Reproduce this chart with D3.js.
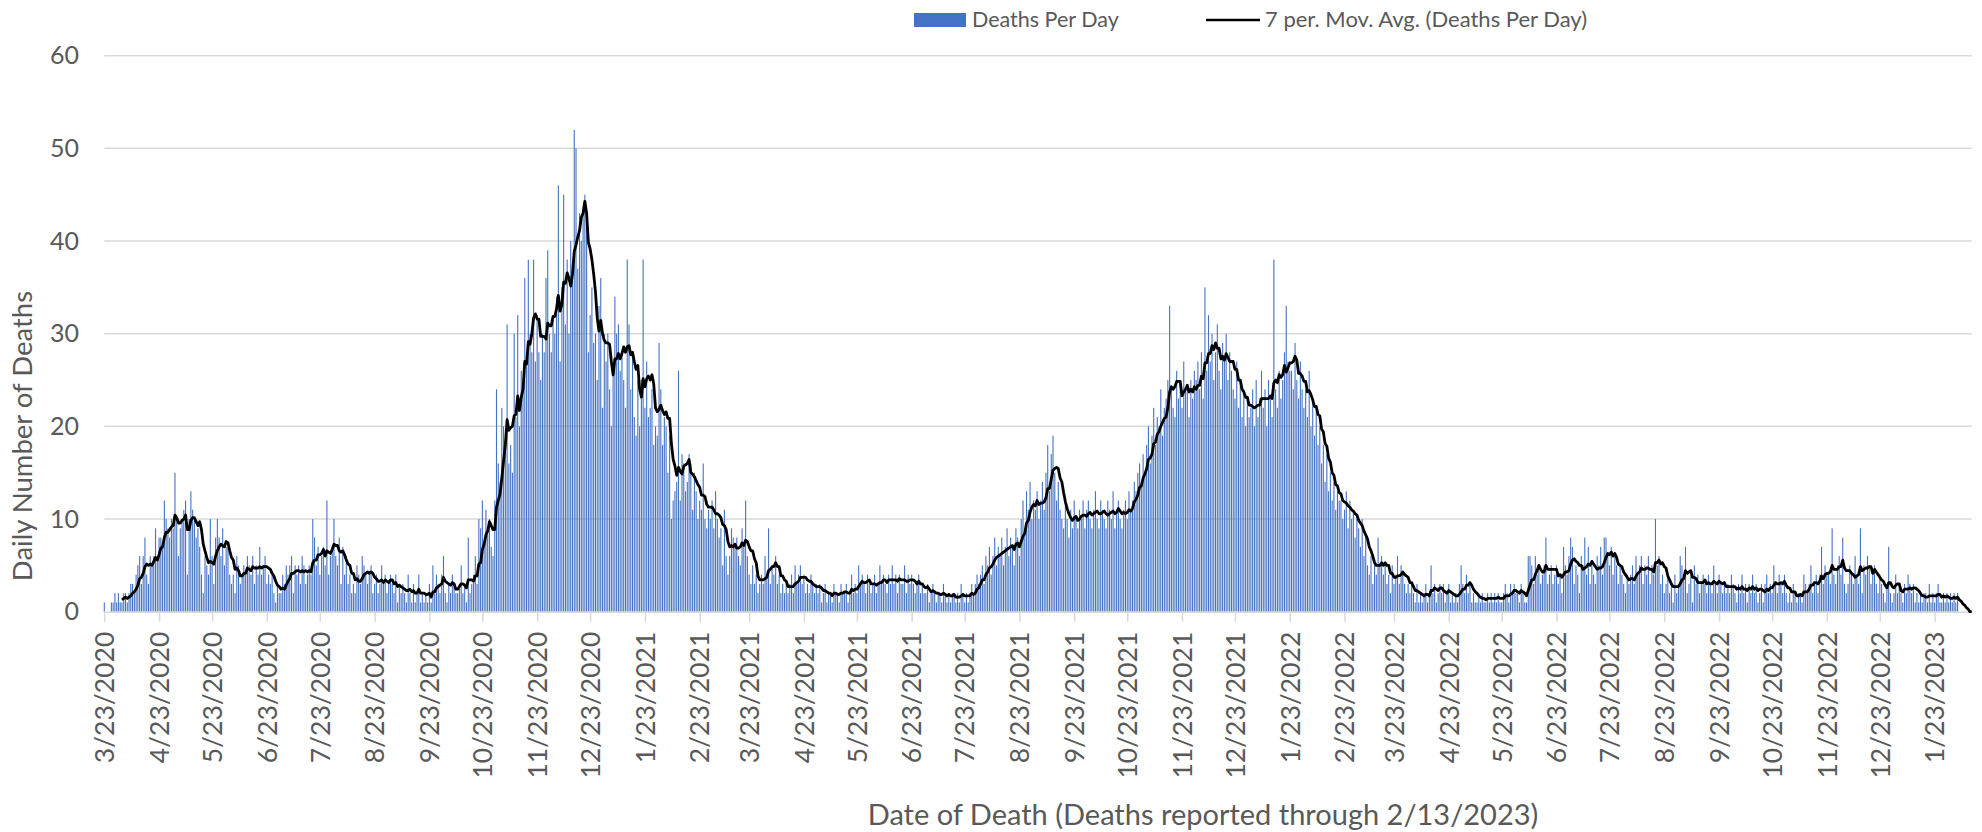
<!DOCTYPE html>
<html>
<head>
<meta charset="utf-8">
<script src="https://cdn.jsdelivr.net/npm/d3@7"></script>
<style>
  body { margin: 0; background: #fff; }
  text { font-family: Lato, "Open Sans", sans-serif; fill: #595959; }
</style>
</head>
<body>
<div id="chart"></div>
<script>
// deaths per day, one array per calendar month (first one starts 3/23/2020)
const mar2020 = [1, null, null, null, 1, 1, 2, 1, 2];
const apr2020 = [1,1,2,2,1,2,3, 3,2,4, 5,6,3,6,8,4,3, 6,5,6,9,6,8, 8,7,12,10,9,8,10];
const may2020 = [9,15,10,6,9,10,11,12,4,10,13,11,10,8,9,7,4,2,6,5,4,10,6,3,8,10,8,6,9,5,7];
const jun2020 = [7,4,3,4,2,6,5,3,4,5,4,6,5,4,6,3,5,4,7,4,5,6,3,4,3,4,2,1,3,2];
const jul2020 = [2,4,3,5,4,5,6,2,5,4,5,3,6,5,3,4,5,4,10,8,5,7,4,6,7,5,12,4,6,7,10];
const aug2020 = [6,5,8,3,7,4,6,3,4,2,3,2,5,4,3,6,5,4,3,4,5,2,3,4,2,3,5,3,4,2,3];
const sep2020 = [4,3,2,4,1,3,2,3,2,1,4,2,1,3,1,2,4,1,2,1,2,1,3,1,5,2,4,3,2,4];
const oct2020 = [6,2,1,3,2,4,3,2,2,3,5,2,3,1,8,2,3,4,6,3,10,9,12,7,11,9,10,7,6,12,24];
const nov2020 = [16,14,22,20,18,31,16,18,15,30,21,32,20,26,24,36,28,38,30,28,38,27,32,28,25,30,28,36,39,30];
const dec2020 = [28,32,30,34,46,27,35,45,31,38,30,40,36,52,50,37,43,40,43,45,43,28,32,35,29,30,25,33,36,22,30];
const jan2021 = [27,30,24,20,26,34,30,31,26,28,25,22,38,31,24,28,21,19,25,20,25,38,22,27,21,22,24,18,20,19,29];
const feb2021 = [24,18,21,20,15,19,10,12,13,14,26,12,17,16,13,14,17,16,11,15,13,10,12,11,16,10,9,11];
const mar2021 = [10,12,9,13,10,8,9,5,11,6,4,6,9,8,7,8,6,5,9,7,12,6,4,3,5,3,4,2,3,4,3];
const apr2021 = [6,4,9,3,5,4,6,3,4,2,3,2,3,2,3,4,2,5,3,4,5,3,4,2,3,2,4,3,2,3];
const may2021 = [2,3,1,2,3,1,2,2,1,3,2,2,1,3,2,2,3,1,2,4,2,3,2,5,3,4,3,2,4,3,2];
const jun2021 = [3,4,2,3,5,3,4,3,2,4,3,5,3,4,2,4,3,3,5,2,4,3,4,3,2,3,4,2,3,2];
const jul2021 = [2,3,1,2,3,2,1,2,2,1,3,2,1,2,1,2,2,1,2,1,3,2,1,2,1,2,3,2,3,4,3];
const aug2021 = [4,5,3,6,5,7,4,6,8,5,7,6,8,5,7,9,6,8,7,5,9,8,6,10,12,9,13,11,14,10,12];
const sep2021 = [11,13,10,12,14,11,15,18,13,17,19,15,12,14,11,10,9,12,10,8,11,9,12,10,9,11,10,12,9,11];
const oct2021 = [12,10,9,11,13,10,9,12,11,10,9,12,11,10,13,9,11,12,10,9,11,12,10,13,11,12,14,13,15,16,14];
const nov2021 = [17,15,18,20,16,19,22,18,21,20,24,19,22,23,25,33,24,22,21,26,23,25,22,27,24,24,21,25,23,26];
const dec2021 = [25,27,24,28,23,35,26,32,27,30,25,28,31,26,24,29,27,30,25,28,26,24,23,27,22,25,21,24,20,23,21];
const jan2022 = [22,24,20,25,21,23,26,22,24,20,25,23,21,38,24,22,26,23,25,28,33,27,26,26,24,29,25,23,27,24,22];
const feb2022 = [24,21,26,20,23,19,22,18,20,16,18,14,17,13,15,12,14,11,13,12,12,10,11,13,9,12,10,11];
const mar2022 = [8,10,9,7,10,6,8,5,4,6,3,5,4,8,5,6,4,5,3,4,2,5,3,4,6,3,5,4,3,2,3];
const apr2022 = [2,3,2,1,3,1,2,1,2,3,1,2,5,2,3,1,2,3,2,3,1,2,3,1,2,1,2,1,3,5];
const may2022 = [3,2,4,2,3,1,2,1,1,2,1,2,1,1,2,1,2,1,2,1,2,1,1,2,3,2,1,3,2,3,2];
const jun2022 = [2,1,3,2,1,1,6,6,5,3,6,4,5,3,4,5,8,3,4,5,3,4,5,3,4,2,7,5,4,6];
const jul2022 = [8,7,3,5,4,2,6,5,8,4,7,3,5,4,3,6,5,7,4,8,8,6,5,7,4,6,5,3,5,4,3];
const aug2022 = [2,4,3,4,5,3,6,4,5,6,3,5,4,6,3,5,4,10,5,6,3,4,2,3,4,2,3,1,4,2,3];
const sep2022 = [6,5,4,7,2,3,4,1,5,3,4,2,3,4,3,2,4,3,2,5,3,2,4,3,2,3,2,3,2,4];
const oct2022 = [3,2,1,3,2,4,2,3,1,3,2,4,2,3,1,2,3,1,3,4,2,3,2,5,3,2,4,3,2,4,2];
const nov2022 = [1,2,1,3,2,1,2,2,1,4,3,2,3,5,2,3,4,2,4,7,3,5,4,4,3,9,4,3,5,6];
const dec2022 = [4,8,3,2,3,5,4,3,6,4,3,9,2,5,4,6,5,3,4,5,3,2,4,3,2,1,3,7,2,1,2];
const jan2023 = [4,2,3,2,1,3,2,4,3,2,3,1,2,1,2,1,2,2,1,3,1,2,1,2,3,1,1,2,1,2,1];
const feb2023 = [2,1,2,1,2,0,0,0,0,0,0,0,0];

const tickLabels = ["3/23/2020","4/23/2020","5/23/2020","6/23/2020","7/23/2020","8/23/2020",
  "9/23/2020","10/23/2020","11/23/2020","12/23/2020","1/23/2021","2/23/2021","3/23/2021",
  "4/23/2021","5/23/2021","6/23/2021","7/23/2021","8/23/2021","9/23/2021","10/23/2021",
  "11/23/2021","12/23/2021","1/23/2022","2/23/2022","3/23/2022","4/23/2022","5/23/2022",
  "6/23/2022","7/23/2022","8/23/2022","9/23/2022","10/23/2022","11/23/2022","12/23/2022","1/23/2023"];
const yTicks = [0, 10, 20, 30, 40, 50, 60];

const months = [mar2020, apr2020, may2020, jun2020, jul2020, aug2020, sep2020, oct2020, nov2020, dec2020,
  jan2021, feb2021, mar2021, apr2021, may2021, jun2021, jul2021, aug2021, sep2021, oct2021, nov2021, dec2021,
  jan2022, feb2022, mar2022, apr2022, may2022, jun2022, jul2022, aug2022, sep2022, oct2022, nov2022, dec2022,
  jan2023, feb2023];
const deaths = months.flat();

const start = new Date(Date.UTC(2020, 2, 23));
const parse = d3.utcParse("%m/%d/%Y");
const fmt = d3.utcFormat("%-m/%-d/%Y");

const data = deaths.map((v, i) => ({ date: d3.utcDay.offset(start, i), value: v }));

// 7 period moving average, like the excel trendline
const avg = [];
data.forEach((d, i) => {
  if (i < 6) return;
  const win = data.slice(i - 6, i + 1).map(x => x.value);
  if (win.some(x => x == null)) return;
  avg.push({ date: d.date, value: d3.mean(win) });
});

const width = 1982, height = 832;
const svg = d3.select("#chart").append("svg")
  .attr("width", width).attr("height", height);

const x = d3.scaleUtc()
  .domain([start, data[data.length - 1].date])
  .range([104.3, 1971.7]);
const y = d3.scaleLinear().domain([0, 60]).range([611.7, 55.7]);

const step = x(data[1].date) - x(data[0].date);
const barW = step * 0.62;

// gridlines
svg.append("g").selectAll("line")
  .data(yTicks.filter(t => t > 0))
  .join("line")
  .attr("x1", 104.3).attr("x2", 1971.7)
  .attr("y1", d => y(d)).attr("y2", d => y(d))
  .attr("stroke", "#d9d9d9").attr("stroke-width", 1.5);

// y labels
svg.append("g").selectAll("text")
  .data(yTicks)
  .join("text")
  .attr("x", 79).attr("y", d => y(d))
  .attr("dy", "0.35em")
  .attr("text-anchor", "end")
  .style("font-size", "25px")
  .text(d => d);

// bars
svg.append("g").selectAll("rect")
  .data(data.filter(d => d.value > 0))
  .join("rect")
  .attr("x", d => x(d.date) - barW / 2)
  .attr("y", d => y(d.value))
  .attr("width", barW)
  .attr("height", d => y(0) - y(d.value))
  .attr("fill", "#4472c4");

// x axis
const xAxis = svg.append("g")
  .attr("transform", `translate(0,${y(0)})`)
  .call(d3.axisBottom(x)
    .tickValues(tickLabels.map(parse))
    .tickFormat(fmt)
    .tickSize(10)
    .tickSizeOuter(0));
xAxis.select(".domain").attr("stroke", "#d9d9d9").attr("stroke-width", 1.5);
xAxis.selectAll(".tick line").attr("stroke", "#d9d9d9").attr("stroke-width", 1.5);
xAxis.selectAll(".tick text")
  .attr("transform", "rotate(-90)")
  .attr("x", -20).attr("y", 0).attr("dy", "0.35em")
  .attr("text-anchor", "end")
  .attr("fill", "#595959")
  .style("font-size", "26.5px")
  .style("font-family", "Lato, 'Open Sans', sans-serif");

// moving average line
svg.append("path")
  .datum(avg)
  .attr("fill", "none")
  .attr("stroke", "#000")
  .attr("stroke-width", 2.8)
  .attr("stroke-linejoin", "round")
  .attr("d", d3.line().x(d => x(d.date)).y(d => y(d.value)));

// axis titles
svg.append("text")
  .attr("transform", "translate(32,436) rotate(-90)")
  .attr("text-anchor", "middle")
  .style("font-size", "27.5px")
  .text("Daily Number of Deaths");

svg.append("text")
  .attr("x", 1203).attr("y", 825)
  .attr("text-anchor", "middle")
  .style("font-size", "29px")
  .text("Date of Death (Deaths reported through 2/13/2023)");

// legend
const leg = svg.append("g");
leg.append("rect").attr("x", 914).attr("y", 13).attr("width", 52).attr("height", 14).attr("fill", "#4472c4");
leg.append("text").attr("x", 972).attr("y", 27).style("font-size", "21.5px").text("Deaths Per Day");
leg.append("line").attr("x1", 1206).attr("x2", 1260).attr("y1", 20).attr("y2", 20)
  .attr("stroke", "#000").attr("stroke-width", 2.5);
leg.append("text").attr("x", 1265).attr("y", 27).style("font-size", "22px").text("7 per. Mov. Avg. (Deaths Per Day)");
</script>
</body>
</html>
